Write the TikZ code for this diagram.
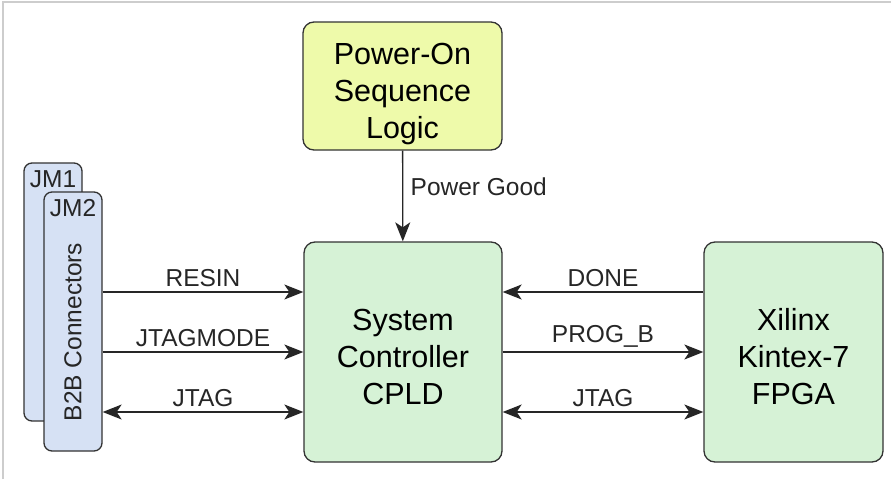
\documentclass[tikz,border=0pt]{standalone}
\usepackage{fontspec}
\setmainfont{Liberation Sans}
\usetikzlibrary{arrows.meta}

\definecolor{powfill}{RGB}{238,250,170}
\definecolor{ctlfill}{RGB}{214,242,214}
\definecolor{confill}{RGB}{214,225,244}
\definecolor{edgegray}{RGB}{51,51,51}
\definecolor{framegray}{RGB}{205,205,205}

\tikzset{
  blk/.style={draw=edgegray, line width=1.3pt, rounded corners=11pt, align=center,
    inner sep=0pt, text height=105pt, text depth=0pt, font=\fontsize{30.5}{37}\selectfont},
  conn/.style={draw=edgegray, line width=1.3pt, rounded corners=8pt, fill=confill},
  lbl/.style={font=\fontsize{24.5}{28}\selectfont, text=black!85},
  sig/.style={line width=1.3pt, draw=black!85, -{Stealth[length=19pt,width=15pt,inset=5pt]}},
  bisig/.style={line width=1.3pt, draw=black!85, {Stealth[length=19pt,width=15pt,inset=5pt]}-{Stealth[length=19pt,width=15pt,inset=5pt]}}
}

\begin{document}
\begin{tikzpicture}[x=1pt,y=-1pt]

\useasboundingbox (0,0) rectangle (891,479);
\draw[framegray, line width=1.5pt] (3,479) -- (3,2) -- (891,2);

\node[conn, minimum width=58pt, minimum height=258pt] (jm1) at (53,292) {};
\node[lbl, anchor=north] (jm1name) at ([yshift=-5pt]jm1.north) {JM1};
\node[conn, minimum width=58pt, minimum height=259pt] (jm2) at (73,321.5) {};
\node[lbl, anchor=north] (jm2name) at ([yshift=-5pt]jm2.north) {JM2};
\node[lbl, rotate=90] (b2b) at (73,332) {B2B Connectors};

\node[blk, fill=powfill, minimum width=199pt, minimum height=128pt] (power) at (402.5,86)
  {Power-On\\Sequence\\Logic};
\node[blk, fill=ctlfill, minimum width=198pt, minimum height=220pt] (cpld) at (403,352)
  {System\\Controller\\CPLD};
\node[blk, fill=ctlfill, minimum width=179pt, minimum height=220pt] (fpga) at (793.5,352)
  {Xilinx\\Kintex-7\\FPGA};

\coordinate (c1) at ([yshift=60pt]cpld.west);
\coordinate (c2) at (cpld.west);
\coordinate (c3) at ([yshift=-60pt]cpld.west);
\coordinate (f1) at ([yshift=60pt]fpga.west);
\coordinate (f2) at (fpga.west);
\coordinate (f3) at ([yshift=-60pt]fpga.west);

\draw[sig] (power) -- (cpld) node[lbl, pos=0.4, right=4pt] {Power Good};

\draw[sig] (jm2.east |- c1) -- (c1) node[lbl, midway, above=1pt] {RESIN};
\draw[sig] (jm2.east |- c2) -- (c2) node[lbl, midway, above=1pt] {JTAGMODE};
\draw[bisig] (jm2.east |- c3) -- (c3) node[lbl, midway, above=1pt] {JTAG};

\draw[sig] (f1) -- (cpld.east |- f1) node[lbl, midway, above=1pt] {DONE};
\draw[sig] (cpld.east |- f2) -- (f2) node[lbl, midway, above=1pt] {PROG\_B};
\draw[bisig] (cpld.east |- f3) -- (f3) node[lbl, midway, above=1pt] {JTAG};

\end{tikzpicture}
\end{document}
